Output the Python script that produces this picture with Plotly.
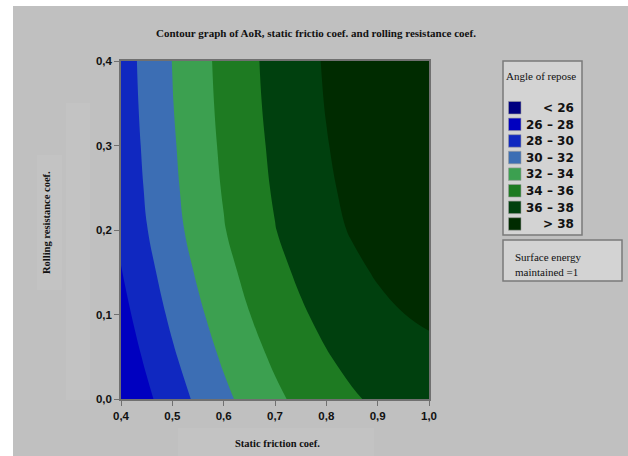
import plotly.graph_objects as go

# ---- data ----
static_friction = [0.40, 0.45, 0.50, 0.55, 0.60, 0.65, 0.70, 0.75, 0.80, 0.85, 0.90, 0.95, 1.00]
rolling_resistance = [0.00, 0.05, 0.10, 0.15, 0.20, 0.25, 0.30, 0.35, 0.40]
angle_of_repose = [
    [26.07, 27.62, 29.06, 30.37, 31.57, 32.65, 33.62, 34.46, 35.19, 35.80, 36.30, 36.67, 36.93],
    [26.76, 28.31, 29.75, 31.06, 32.26, 33.34, 34.31, 35.15, 35.88, 36.49, 36.99, 37.36, 37.62],
    [27.38, 28.93, 30.37, 31.68, 32.88, 33.96, 34.93, 35.77, 36.50, 37.11, 37.61, 37.98, 38.24],
    [27.92, 29.47, 30.91, 32.22, 33.42, 34.50, 35.47, 36.31, 37.04, 37.65, 38.15, 38.52, 38.78],
    [28.40, 29.95, 31.39, 32.70, 33.90, 34.98, 35.95, 36.79, 37.52, 38.13, 38.63, 39.00, 39.26],
    [28.64, 30.19, 31.63, 32.94, 34.14, 35.22, 36.19, 37.03, 37.76, 38.37, 38.87, 39.24, 39.50],
    [28.81, 30.36, 31.79, 33.11, 34.31, 35.39, 36.35, 37.20, 37.93, 38.54, 39.03, 39.41, 39.67],
    [28.95, 30.50, 31.94, 33.25, 34.45, 35.53, 36.50, 37.34, 38.07, 38.68, 39.18, 39.55, 39.81],
    [29.04, 30.59, 32.03, 33.34, 34.54, 35.62, 36.59, 37.43, 38.16, 38.77, 39.27, 39.64, 39.90],
]
level_start = 26
level_end = 38
level_step = 2
band_labels = ["< 26", "26 \u2013 28", "28 \u2013 30", "30 \u2013 32",
               "32 \u2013 34", "34 \u2013 36", "36 \u2013 38", "> 38"]
band_colors = ["#000080", "#0000C0", "#1028C0", "#3C6EB4",
               "#3CA050", "#1E7B22", "#00400E", "#002B00"]
x_ticks = [0.4, 0.5, 0.6, 0.7, 0.8, 0.9, 1.0]
y_ticks = [0.0, 0.1, 0.2, 0.3, 0.4]

# ---- layout geometry (pixels) ----
W, H = 628, 456
L, R, T, B = 121, 429, 61, 399


def px(xp):
    return (xp - L) / (R - L)


def py(yp):
    return (B - yp) / (B - T)


# stepped colour scale: one block per band
n = len(band_colors)
cscale = []
for i, c in enumerate(band_colors):
    lo = max(0.0, (i - 0.5) / (n - 1))
    hi = min(1.0, (i + 0.5) / (n - 1))
    cscale.append([lo, c])
    cscale.append([hi, c])

fig = go.Figure()
fig.add_trace(go.Contour(
    x=static_friction, y=rolling_resistance, z=angle_of_repose,
    colorscale=cscale, showscale=False,
    contours=dict(start=level_start, end=level_end, size=level_step,
                  coloring="fill", showlines=False),
    line=dict(width=0, smoothing=1.3),
    hoverinfo="skip",
))

shapes = []
annotations = []
GREY_BG = "#c0c0c0"
LIGHT = "#c3c3c3"


def rect(x0, y0, x1, y1, fill, line_color=None, lw=0, layer="below"):
    shapes.append(dict(type="rect", xref="paper", yref="paper",
                       x0=px(x0), x1=px(x1), y0=py(y1), y1=py(y0),
                       fillcolor=fill,
                       line=dict(color=line_color or fill, width=lw),
                       layer=layer))


def text(x, y, s, size=11, family="Liberation Serif", xanchor="center",
         yanchor="middle", angle=0, color="#111111"):
    annotations.append(dict(x=px(x), y=py(y), xref="paper", yref="paper",
                            text=s, showarrow=False, xanchor=xanchor,
                            yanchor=yanchor, textangle=angle,
                            font=dict(size=size, family=family, color=color)))


# page background
rect(13, 6, 628, 456, GREY_BG)
rect(37, 155, 62, 290, LIGHT)
rect(66, 103, 90, 400, LIGHT)
rect(178, 428, 374, 456, LIGHT)

# legend boxes
rect(503, 61, 582, 235, "#d3d3d3", "#7a7a7a", 1.5, layer="above")
rect(503, 240, 622, 281, "#d3d3d3", "#7a7a7a", 1.5, layer="above")

text(541, 76, "Angle of repose", size=11)
for i, (lab, col) in enumerate(zip(band_labels, band_colors)):
    top = 101.5 + i * 16.6
    rect(508.5, top, 521, top + 12.5, col, "#9a9a9a", 0.6, layer="above")
    text(576, top + 6.5, "<b>%s</b>" % lab.replace("<", "&lt;").replace(">", "&gt;"),
         size=12, family="DejaVu Sans", xanchor="right")

text(513, 257, "Surface energy", size=11, xanchor="left")
text(513, 272, "maintained =1", size=11, xanchor="left")

# titles
text(316, 33, "<b>Contour graph of AoR, static frictio coef. and rolling resistance coef.</b>", size=11)
text(277, 443, "<b>Static friction coef.</b>", size=10.5)
text(46, 223, "<b>Rolling resistance coef.</b>", size=10.5, angle=-90)

axis_common = dict(showgrid=False, zeroline=False, showline=True,
                   linecolor="#707070", linewidth=1.5, mirror=True,
                   ticks="outside", ticklen=5, tickcolor="#707070", tickwidth=1,
                   tickformat=".1f",
                   tickfont=dict(family="Liberation Sans", size=11.5, color="#111111",
                                 weight="bold"))

fig.update_layout(
    width=W, height=H,
    margin=dict(l=L, r=W - R, t=T, b=H - B, pad=0),
    paper_bgcolor="white", plot_bgcolor=GREY_BG,
    separators=",.",
    xaxis=dict(range=[0.4, 1.0], tickvals=x_ticks, **axis_common),
    yaxis=dict(range=[0.0, 0.4], tickvals=y_ticks, **axis_common),
    shapes=shapes, annotations=annotations,
    showlegend=False,
)

fig.write_html("out.html")
